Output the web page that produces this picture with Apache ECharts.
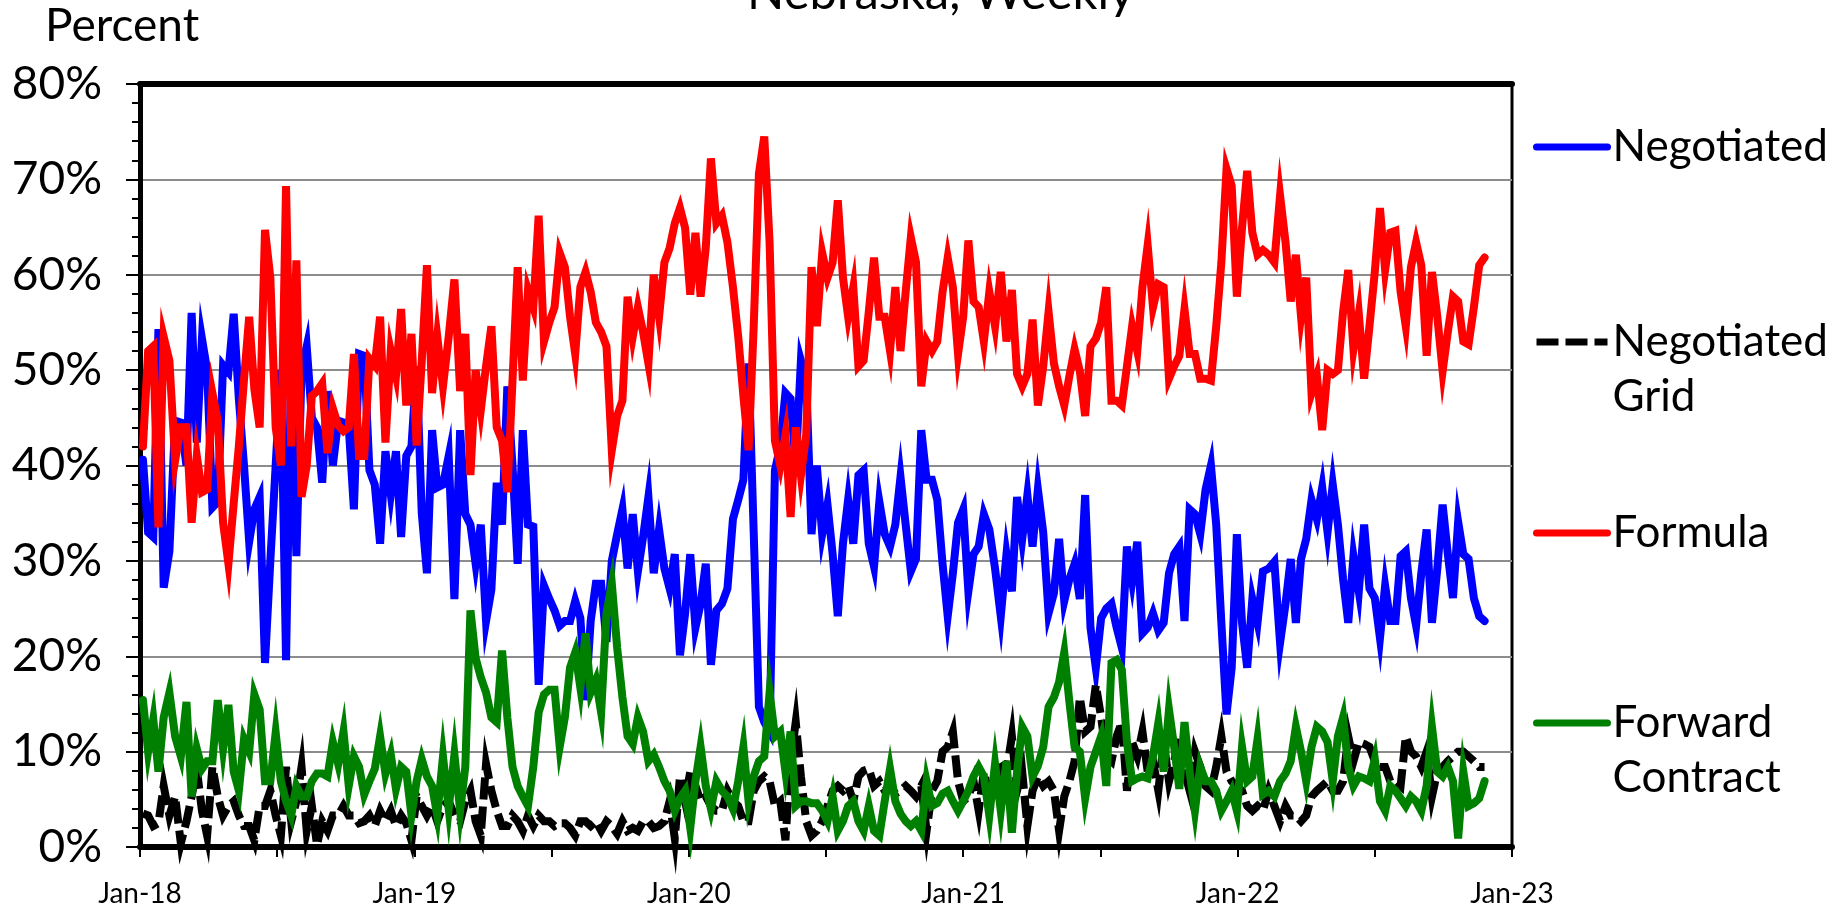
<!DOCTYPE html>
<html>
<head>
<meta charset="utf-8">
<script src="https://cdn.jsdelivr.net/npm/echarts@6/dist/echarts.min.js"></script>
<style>
html,body{margin:0;padding:0;background:#fff;}
#chart{width:1848px;height:906px;}
</style>
</head>
<body>
<div id="chart"></div>
<script>
const titleText = 'Nebraska, Weekly';
const yAxisName = 'Percent';
const seriesNames = ['Negotiated', 'Negotiated Grid', 'Formula', 'Forward Contract'];
const legendLabels = ['Negotiated', '\u00a0\nNegotiated\nGrid', 'Formula', '\u00a0\nForward\nContract'];
const xTickLabels = ['Jan-18', 'Jan-19', 'Jan-20', 'Jan-21', 'Jan-22', 'Jan-23'];
const firstWeek = [2018, 0, 5]; // first weekly observation (year, monthIndex, day)

const negotiated = [
40.6,33,32.5,54.3,27.2,31,44.7,44.5,40,56,
42.4,53.3,50,35.6,36.2,50.5,49.8,55.9,47,40,
32,35.4,36.7,19.3,30,40,50,19.6,51,30.5,
50,52.5,45,44,38.2,47.8,40,44.7,44.5,44,
35.4,51.7,51.5,39.5,38,31.8,41.5,37,41.5,32.5,
41,42,50.4,35,28.7,43.7,37.7,38,41,26,
43.7,34.9,33.8,29.7,33.8,23.7,27,38.2,33.8,48.3,
40,29.7,43.7,33.8,33.6,17,27.4,26,24.8,23.2,
23.7,23.7,25.8,24,15.4,23.7,27.6,27.6,21.5,30,
32.8,35.4,29.2,34.9,28.9,32.5,36.7,28.7,33.3,29.2,
27.1,30.7,20.1,24.5,30.7,23,25.5,29.7,19.1,24.8,
25.5,27.1,34.4,36.4,38.5,50.7,33,14.7,13.1,12.1,
39.5,42,47.6,47,40,51,49,32.8,40,32.8,
35.9,30.7,24.2,31.8,36.4,31.8,39,39.5,31.8,29.4,
36.2,32.8,31.5,33.8,38.8,33.8,28.9,30.2,43.7,38.5,
38.5,36.4,29.7,24.2,28.7,34,35.4,26.8,30.7,31.5,
34.9,33.3,29.2,24.2,30.7,26.8,36.7,32.3,36.9,31.5,
37.5,33,24.5,26.6,32.3,25.8,28.1,29.7,26,36.9,
23,18.8,24,25,25.5,23,20.9,31.5,27.9,32,
22.4,23,24.5,22.7,23.5,28.7,30.7,31.5,23.7,35.4,
34.9,32.8,37.5,40,33.8,23.5,13.9,18.8,32.8,23.5,
18.8,26,23.5,28.9,29.2,29.9,21.4,25.5,30.2,23.5,
30.2,32.3,36.4,34.4,37.7,33,38,33.8,28.1,23.5,
30.5,26.8,33.8,27.1,26.1,21.9,27.4,23.7,23.7,30.5,
31,26.1,23.2,28.7,33.3,23.5,29.2,35.9,30.7,26.1,
34.1,30.7,30.2,26.1,24.2,23.7
];

const negotiatedGrid = [
3.5,3.3,2.2,2.5,6.4,3.3,5.3,0.4,2.7,5.3,
8.2,3.8,1.2,8.4,5.3,3.3,4.3,4.8,3.3,2.2,
2.2,0.7,4.3,4.3,5.9,3.3,1.2,8.4,2.7,4.8,
8.4,1.7,4.3,0.2,2.7,1.7,3.3,3.3,4.3,3.3,
3.3,2.5,2.7,3.3,2.2,3.8,2.7,3.8,2.2,3.3,
2.5,0.7,5.3,4.3,3.3,4.3,2.7,4.3,4.8,3.3,
2.7,4.8,5.9,2.7,1.2,8.7,5.9,3.8,2.2,2.2,
3.3,2.7,1.7,3.3,2.2,3.3,2.7,2.7,2.2,2.5,
2.5,2,1.2,2.7,2.7,2.2,2.7,1.7,2.7,2.2,
1.4,2.7,1.7,2,1.7,2.7,2.7,2,2.2,2.7,
4.8,0.9,7.4,4.8,7.9,6.4,4.8,5.3,4.3,3.8,
3.8,5.9,4.8,4.3,2.7,2.7,5.9,6.9,7.4,6.9,
4.3,4.8,0.7,9,13.1,7.4,2.7,1.2,1.7,2.7,
4.3,5.9,6.4,5.9,6.4,4.8,7.4,8,8.2,6.4,
6.9,5.9,6.4,5.6,5.9,6.4,5.9,5.3,6.4,1.7,
5.9,6.9,10,10.5,12.1,6.9,4.8,5.3,6.9,3.8,
7.9,5.3,6.9,9,7.9,11.6,5.9,7.9,2.2,5.9,
7.4,6.4,6.9,5.9,1.7,5.3,6.9,9,15.7,12.1,
12.6,17,13.6,9.5,9,11.6,13.1,5.9,11,9.5,
12.1,7.9,9,5.9,11,6.9,9,11.6,7.9,5.9,
10,8.4,6.4,5.9,8.4,11.6,7.9,6.9,6.4,5.9,
4.3,3.8,4.3,3.8,5.9,4.3,2.7,4.3,3.3,3.3,
2.7,3.3,5.3,5.9,6.4,6.9,5.9,5.9,6.9,11.6,
9,11,10.8,10.5,9,8.4,8.4,6.9,6.9,6.4,
11.6,10,9.5,8.4,10,5.3,7.9,8.4,9,9.5,
10,10,9.5,9,8.4,8.4
];

const formula = [
42,52,52.5,33.5,53.5,51,40.5,44,44,34,
41,37.2,37.5,47.6,44.7,34,29.7,36,42,49,
55.6,48,44,64.7,59.7,44,40,69.3,42,61.5,
36.7,40,47.3,47.8,48.6,41.3,46,44.2,43.6,44,
51.7,41,41,51.2,50.5,55.6,42.4,52,49.4,56.4,
46.3,53.8,42.1,51,61,47.6,53.5,48.3,53.5,59.5,
47.8,53.8,39,50,45.8,50.4,54.6,44,42.6,37.2,
48.9,60.8,48.9,58.4,56.6,66.2,53,55,56.6,62.3,
60.8,55.6,51.7,58.7,60.3,58.2,55,54,52.5,41.6,
45.2,46.8,57.7,53.5,56.6,54,50.7,60,55.6,61.3,
62.8,65.4,67,64.9,57.9,64.4,57.7,62.8,72.2,65.4,
66.2,63.4,58.7,53.5,47.3,41.6,54.6,70.6,74.5,63.4,
42.6,40,43.2,34.6,44,39,43.2,60.8,54.6,62.3,
59.7,61.3,67.8,59.7,55.6,58.7,50.4,51,56.1,61.8,
55.6,55.6,52,58.7,52,58.2,63.9,61.3,48.3,53,
52,53,58.2,61.8,58.7,51.7,55.6,63.6,57.2,56.6,
53,58.2,54.6,60.3,53,58.4,49.6,48.3,49.6,55.3,
46.3,50.4,56.1,50.7,48.3,46.3,49.4,52.2,49.9,45.2,
52.5,53.3,55,58.7,46.8,46.8,46.3,50.4,54.6,52,
58.7,63.1,56.6,59,58.7,49.1,50.4,51.5,56.4,51.7,
51.7,49.1,49.1,48.9,54.6,61.3,71.1,69.3,57.7,64.9,
70.9,64.4,62.1,62.6,62.1,61.3,68.3,63.4,57.2,62.1,
55.6,59.7,47.6,49.4,43.7,50,49.6,50,56.1,60.5,
52.2,55.9,49.1,54.6,60.3,67,60.5,64.4,64.6,58.2,
54.6,60.8,63.4,61,51.5,60.3,55.6,49.9,54,57.7,
57.2,53,52.7,56.6,61,61.8
];

const forwardContract = [
15.4,10,13.4,7.9,13.6,16.2,11.6,9.5,15.2,5.3,
10.3,8.2,9,9,15.4,10.3,14.9,7.9,5.9,11.3,
10,16,14.4,6.9,6.9,12,6.9,4.8,3.3,6.4,
5.3,5.3,6.9,7.7,7.7,7.4,11,8.7,12.1,6.4,
9.5,8.4,5.5,6.9,8.2,11.6,7.7,9.7,6.1,8.4,
7.9,3.3,6.9,9.2,7.4,6.4,3.3,9.5,4,9.7,
3.8,8.4,24.8,19.8,17.8,16.2,13.6,13.1,20.6,13.6,
8.4,6.4,5.3,4.3,8.4,14.1,16,16.5,16.5,10.5,
13.6,18.8,20.4,16.7,22.4,16.2,17.5,14.1,24.5,27.6,
20.9,15.7,11.6,10.8,13.6,12.1,9,9.7,8.4,6.9,
5.9,3.8,5.1,5.9,2,6.9,10.5,6.4,4,6.9,
5.9,5.3,4,6.9,10.5,4.8,7.4,9,9.5,16.2,
11.6,12.1,7.9,12.1,4.3,4.8,4.8,4.6,4.6,3.8,
2.7,5.3,1.7,2.7,4.3,4.8,2.7,1.7,4.3,1.7,
1.2,4.8,8.2,4.8,3.5,2.7,2.2,2.7,1.7,6.9,
4.3,4.6,5.6,5.9,4.8,3.8,4.8,5.9,7.4,8.4,
7.4,3.3,8.7,3.8,9,1.5,7.9,12.6,11.6,7.4,
8.5,10.5,14.7,15.7,17.3,20.4,15.2,10.5,10,5.1,
8.4,10,11.6,6.4,19.3,19.6,18.6,11,6.9,7.2,
7.4,7.2,9.5,13,7.9,14.4,10.5,6.1,13.1,7.9,
3.8,8.4,6.9,6.9,5.9,3.8,4.8,5.9,3.8,10.5,
6.9,7.4,11.3,5.5,5.9,5.3,6.9,7.7,9,12.6,
10,6.9,10.5,12.6,12.1,11,6.9,11.6,13.6,8.4,
6.4,7.4,7.2,6.9,9.2,4.8,3.8,6.4,5.9,5.1,
4.3,5.3,4.8,3.8,6.4,12.6,7.9,7.4,8.4,6.9,
0.9,7.9,4.3,4.6,5.1,6.9
];

// weekly dates -> position in months since Jan 2018 (for the axis)
function monthPos(d) {
  const y = d.getUTCFullYear(), m = d.getUTCMonth(), day = d.getUTCDate();
  const dim = new Date(Date.UTC(y, m + 1, 0)).getUTCDate();
  return (y - 2018) * 12 + m + (day - 1) / dim;
}
const weekDates = negotiated.map((_, i) => new Date(Date.UTC(firstWeek[0], firstWeek[1], firstWeek[2] + 7 * i)));
const weekX = weekDates.map(monthPos);
const pairs = arr => arr.map((v, i) => [weekX[i], v]);

const colors = ['#0000ff', '#000000', '#ff0000', '#008000'];
const values = [negotiated, negotiatedGrid, formula, forwardContract];
const legendTops = [119.5, 259.5, 505.5, 640.5];
const FONT = 'Lato';
const LINE_W = 8;

const chart = echarts.init(document.getElementById('chart'), null, {renderer: 'canvas'});

const series = seriesNames.map((name, k) => ({
  name: name,
  type: 'line',
  data: pairs(values[k]),
  symbol: 'none',
  showSymbol: false,
  smooth: false,
  clip: false,
  itemStyle: {color: colors[k]},
  lineStyle: {
    color: colors[k],
    width: LINE_W,
    type: k === 1 ? [22, 7] : 'solid',
    cap: k === 1 ? 'butt' : 'round',
    join: 'miter'
  },
  emphasis: {disabled: true},
  z: 2 + k
}));

const legends = seriesNames.map((name, k) => ({
  data: [name],
  left: 1533,
  top: legendTops[k],
  orient: 'vertical',
  padding: 0,
  itemWidth: 71,
  itemHeight: 20,
  selectedMode: false,
  formatter: () => legendLabels[k],
  itemStyle: {opacity: 0, borderWidth: 0},
  lineStyle: {width: 7, cap: k === 1 ? 'butt' : 'round'},
  textStyle: {fontFamily: FONT, fontSize: 44, color: '#000', lineHeight: 55}
}));

const option = {
  animation: false,
  backgroundColor: '#ffffff',
  textStyle: {fontFamily: FONT},
  title: [
    {text: titleText, left: 747, top: -31, padding: 0,
     textStyle: {fontFamily: FONT, fontSize: 49, fontWeight: 'normal', color: '#000', lineHeight: 49}},
    {text: yAxisName, left: 45, top: 3, padding: 0,
     textStyle: {fontFamily: FONT, fontSize: 46, fontWeight: 'normal', color: '#000', lineHeight: 46}}
  ],
  grid: {
    left: 140, right: 336, top: 84, bottom: 59,
    show: true, borderColor: '#000', borderWidth: 3,
    containLabel: false, outerBoundsMode: 'none'
  },
  legend: legends,
  xAxis: [
    {
      type: 'value', min: 0, max: 60, interval: 6,
      axisLine: {show: true, onZero: false, lineStyle: {color: '#000', width: 6}},
      axisTick: {show: true, inside: false, length: 10, lineStyle: {color: '#000', width: 2}},
      axisLabel: {
        show: true, showMinLabel: true, showMaxLabel: true,
        fontFamily: FONT, fontSize: 28, color: '#000', margin: 33,
        formatter: v => (Math.round(v) % 12 === 0 ? xTickLabels[Math.round(v) / 12] : '')
      },
      splitLine: {show: false}
    },
    {
      type: 'value', position: 'top', min: 0, max: 60,
      axisLine: {show: true, onZero: false, lineStyle: {color: '#000', width: 6}},
      axisTick: {show: false}, axisLabel: {show: false}, splitLine: {show: false}
    }
  ],
  yAxis: {
    type: 'value', min: 0, max: 80, interval: 10,
    axisLine: {show: true, onZero: false, lineStyle: {color: '#000', width: 5}},
    axisTick: {show: true, inside: false, length: 14, lineStyle: {color: '#000', width: 2}},
    minorTick: {show: true, splitNumber: 5, length: 8, lineStyle: {color: '#000', width: 2}},
    axisLabel: {formatter: '{value}%', fontFamily: FONT, fontSize: 46, color: '#000', margin: 38},
    splitLine: {show: true, lineStyle: {color: '#8c8c8c', width: 2}}
  },
  series: series
};

chart.setOption(option);
</script>
</body>
</html>
